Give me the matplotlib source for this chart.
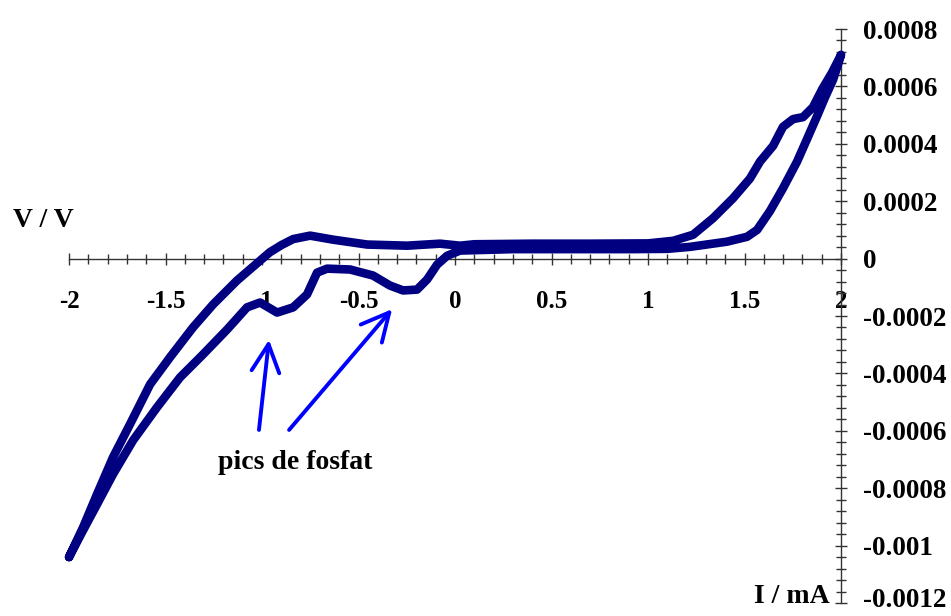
import numpy as np
import matplotlib
matplotlib.use('Agg')
import matplotlib.pyplot as plt
from matplotlib.ticker import FixedLocator, MultipleLocator
from matplotlib.transforms import ScaledTranslation

# Sweep towards positive current: lower branch with the phosphate peaks
fwd_I = [-2.0, -1.93, -1.855, -1.772, -1.668, -1.544, -1.425, -1.306, -1.181,
         -1.078, -1.01, -0.922, -0.839, -0.767, -0.715, -0.663, -0.544, -0.425,
         -0.337, -0.269, -0.197, -0.145, -0.093, -0.041, 0.026, 0.3, 0.6, 0.9,
         1.1, 1.218, 1.409, 1.513, 1.565, 1.632, 1.699, 1.772, 1.824, 1.876,
         1.917, 1.959, 2.0]
fwd_V = [-0.00104, -0.00095, -0.000856, -0.000751, -0.000633, -0.000518,
         -0.000414, -0.000334, -0.000247, -0.00017, -0.000153, -0.000188,
         -0.00017, -0.000125, -0.000049, -0.000035, -0.000038, -0.000059,
         -0.000094, -0.000111, -0.000108, -0.000073, -0.000021, 0.00001,
         0.000028, 0.000033, 0.000033, 0.000033, 0.000034, 0.000041, 0.000059,
         0.000076, 0.0001, 0.000166, 0.000245, 0.000338, 0.000417, 0.000497,
         0.000562, 0.000624, 0.00071]

# Return sweep: upper branch
rev_I = [2.0, 1.953, 1.902, 1.855, 1.803, 1.751, 1.699, 1.648, 1.58, 1.528, 1.44,
         1.337, 1.233, 1.13, 1.0, 0.7, 0.4, 0.1, 0.026, -0.078, -0.249, -0.456,
         -0.632, -0.751, -0.839, -0.9, -0.96, -1.01, -1.13, -1.254, -1.358,
         -1.477, -1.58, -1.684, -1.772, -1.855, -1.927, -2.0]
rev_V = [0.00071, 0.000648, 0.00059, 0.000528, 0.000493, 0.000486, 0.000459,
         0.000393, 0.000338, 0.000279, 0.00021, 0.000141, 0.000083, 0.000062,
         0.000053, 0.000052, 0.000052, 0.00005, 0.000045, 0.000052, 0.000045,
         0.000049, 0.000066, 0.00008, 0.000068, 0.000047, 0.000022, -0.000007,
         -0.0000765, -0.00016, -0.00024, -0.000344, -0.000438, -0.000577,
         -0.000692, -0.000821, -0.000936, -0.00104]

x_ticks = [-2, -1.5, -1, -0.5, 0, 0.5, 1, 1.5, 2]
x_labels = ['-2', '-1.5', '-1', '-0.5', '0', '0.5', '1', '1.5', '2']
y_ticks = [0.0008, 0.0006, 0.0004, 0.0002, 0, -0.0002, -0.0004, -0.0006,
           -0.0008, -0.001, -0.0012]
y_labels = ['0.0008', '0.0006', '0.0004', '0.0002', '0', '-0.0002', '-0.0004',
            '-0.0006', '-0.0008', '-0.001', '-0.0012']

# arrows pointing at the two peaks: (tail, tip)
peak_arrows = [((-1.016, -0.000597), (-0.964, -0.000283)),
               ((-0.860, -0.000597), (-0.326, -0.000176))]

plt.rcParams['font.family'] = ['Liberation Serif', 'DejaVu Serif']
plt.rcParams['font.weight'] = 'bold'

fig = plt.figure(figsize=(9.51, 6.16), dpi=100)
ax = fig.add_axes([0.0726, 0.02110, 0.8118, 0.93182])

curve_I = np.concatenate([fwd_I, rev_I])
curve_V = np.concatenate([fwd_V, rev_V])
ax.plot(curve_I, curve_V, color='#000080', lw=6.2, solid_joinstyle='round',
        solid_capstyle='round', clip_on=False, zorder=3)

ax.set_xlim(-2, 2)
ax.set_ylim(-0.0012, 0.0008)

for side in ['top', 'left']:
    ax.spines[side].set_visible(False)
ax.spines['bottom'].set_position(('data', 0))
for side in ['bottom', 'right']:
    ax.spines[side].set_color('#333333')
    ax.spines[side].set_linewidth(1.0)

ax.xaxis.set_major_locator(FixedLocator(x_ticks))
ax.set_xticklabels(x_labels)
ax.xaxis.set_minor_locator(MultipleLocator(0.1))
ax.yaxis.tick_right()
ax.yaxis.set_major_locator(FixedLocator(y_ticks))
ax.set_yticklabels(y_labels)
ax.yaxis.set_minor_locator(MultipleLocator(0.00004))

ax.tick_params(axis='x', which='major', direction='inout', length=9, width=1,
               color='#333333', pad=18, labelsize=18)
ax.tick_params(axis='x', which='minor', direction='inout', length=7, width=1,
               color='#333333')
ax.tick_params(axis='y', which='major', direction='inout', length=9, width=1,
               color='#333333', pad=11, labelsize=19.5)
ax.tick_params(axis='y', which='minor', direction='inout', length=7, width=1,
               color='#333333')
for lab in ax.get_xticklabels() + ax.get_yticklabels():
    lab.set_fontweight('bold')

# lift the lowest y label a little so it stays inside the figure
bottom_label = ax.yaxis.get_major_ticks()[-1].label2
bottom_label.set_transform(bottom_label.get_transform()
                           + ScaledTranslation(0, 4 / 72, fig.dpi_scale_trans))

ax.text(-2.29, 0.000134, 'V / V', fontsize=20, fontweight='bold',
        ha='left', va='center')
ax.text(1.943, -0.001176, 'I / mA', fontsize=20, fontweight='bold',
        ha='right', va='center')
ax.text(-0.829, -0.000711, 'pics de fosfat', fontsize=20, fontweight='bold',
        ha='center', va='center')

for tail, tip in peak_arrows:
    ax.annotate('', xy=tip, xytext=tail,
                arrowprops=dict(arrowstyle='->,head_length=1.0,head_width=0.5',
                                color='blue', lw=2.8, mutation_scale=20,
                                shrinkA=0, shrinkB=0))

fig.savefig('out.png', dpi=100)
